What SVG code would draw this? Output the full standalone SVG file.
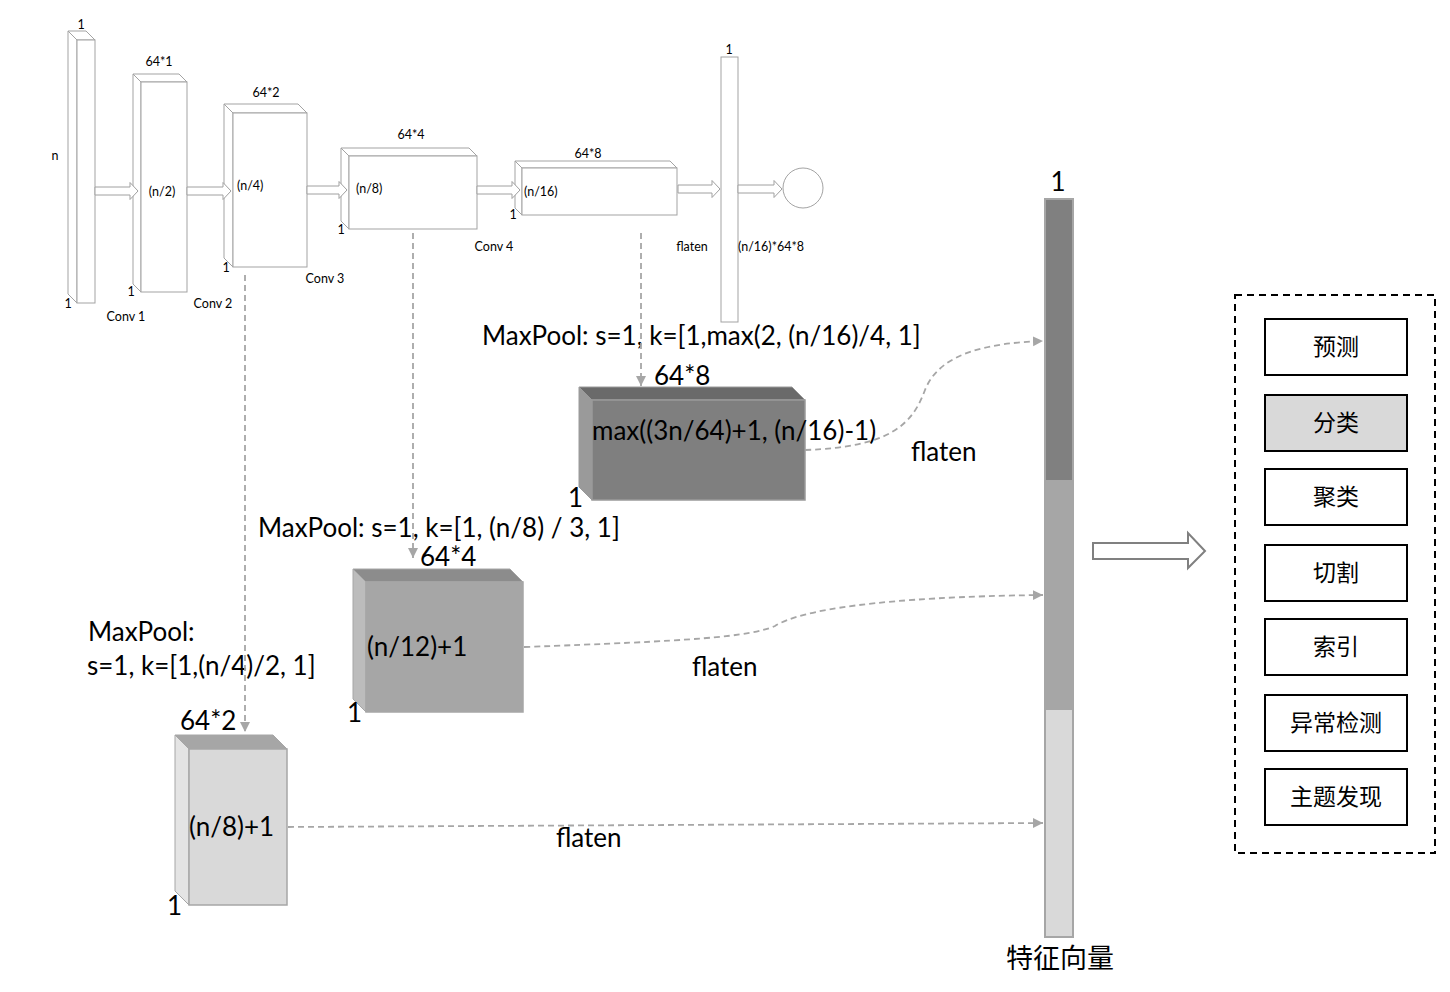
<svg xmlns="http://www.w3.org/2000/svg" width="1450" height="992" viewBox="0 0 1450 992">
<style>
.bg{fill:#ffffff}
.wb{fill:#ffffff;stroke:#a3a3a3;stroke-width:1}
.sm{font-family:Lato,"Liberation Sans",sans-serif;font-size:12.5px;fill:#000}
.lg{font-family:Lato,"Liberation Sans",sans-serif;font-size:26px;fill:#000}
.cj{font-family:"Noto Sans CJK SC",sans-serif;font-size:23px;fill:#000}
.dash{fill:none;stroke:#a6a6a6;stroke-width:1.8;stroke-dasharray:6 4}
.ha{fill:#ffffff;stroke:#a0a0a0;stroke-width:1}
.item{fill:#ffffff;stroke:#000;stroke-width:2}
</style>
<defs>
<marker id="ah" markerUnits="userSpaceOnUse" markerWidth="11" markerHeight="11" refX="10" refY="5" orient="auto">
<path d="M0,0 L10,5 L0,10 Z" fill="#a6a6a6"/>
</marker>
</defs>
<rect class="bg" x="0" y="0" width="1450" height="992"/>

<!-- top network -->
<g id="input">
<polygon class="wb" points="68,31 86,31 95,40 77,40"/>
<polygon class="wb" points="68,31 77,40 77,303 68,294"/>
<rect class="wb" x="77" y="40" width="18" height="263"/>
<text class="sm" x="81" y="29" text-anchor="middle">1</text>
<text class="sm" x="55" y="160" text-anchor="middle">n</text>
<text class="sm" x="68" y="308" text-anchor="middle">1</text>
</g>
<g id="conv1">
<polygon class="wb" points="133,74 179,74 187,82 141,82"/>
<polygon class="wb" points="133,74 141,82 141,292 133,284"/>
<rect class="wb" x="141" y="82" width="46" height="210"/>
<text class="sm" x="159" y="66" text-anchor="middle">64*1</text>
<text class="sm" x="162" y="196" text-anchor="middle">(n/2)</text>
<text class="sm" x="131" y="296" text-anchor="middle">1</text>
<text class="sm" x="126" y="321" text-anchor="middle">Conv 1</text>
</g>
<g id="conv2">
<polygon class="wb" points="224,104 298,104 307,113 233,113"/>
<polygon class="wb" points="224,104 233,113 233,267 224,258"/>
<rect class="wb" x="233" y="113" width="74" height="154"/>
<text class="sm" x="266" y="97" text-anchor="middle">64*2</text>
<text class="sm" x="237" y="190">(n/4)</text>
<text class="sm" x="226" y="272" text-anchor="middle">1</text>
<text class="sm" x="213" y="308" text-anchor="middle">Conv 2</text>
</g>
<g id="conv3">
<polygon class="wb" points="341,148 469,148 477,156 349,156"/>
<polygon class="wb" points="341,148 349,156 349,229 341,221"/>
<rect class="wb" x="349" y="156" width="128" height="73"/>
<text class="sm" x="411" y="139" text-anchor="middle">64*4</text>
<text class="sm" x="356" y="193">(n/8)</text>
<text class="sm" x="341" y="234" text-anchor="middle">1</text>
<text class="sm" x="325" y="283" text-anchor="middle">Conv 3</text>
</g>
<g id="conv4">
<polygon class="wb" points="515,161 670,161 677,168 522,168"/>
<polygon class="wb" points="515,161 522,168 522,215 515,208"/>
<rect class="wb" x="522" y="168" width="155" height="47"/>
<text class="sm" x="588" y="158" text-anchor="middle">64*8</text>
<text class="sm" x="524" y="196">(n/16)</text>
<text class="sm" x="513" y="219" text-anchor="middle">1</text>
<text class="sm" x="494" y="251" text-anchor="middle">Conv 4</text>
</g>
<g id="flatten">
<rect class="wb" x="721" y="57" width="17" height="265"/>
<text class="sm" x="729" y="54" text-anchor="middle">1</text>
<text class="sm" x="692" y="251" text-anchor="middle">flaten</text>
<text class="sm" x="738" y="251">(n/16)*64*8</text>
</g>
<g id="output">
<circle class="wb" cx="803" cy="188" r="20"/>
</g>

<!-- max pool boxes -->
<g id="pool8">
<polygon points="579,387 792,387 805,400 592,400" fill="#6a6a6a" stroke="#9a9a9a" stroke-width="1"/>
<polygon points="579,387 592,400 592,500 579,487" fill="#9a9a9a" stroke="#9a9a9a" stroke-width="1"/>
<rect x="592" y="400" width="213" height="100" fill="#7f7f7f" stroke="#9a9a9a" stroke-width="1.5"/>
<text class="lg" x="482" y="345">MaxPool: s=1, k=[1,max(2, (n/16)/4, 1]</text>
<text class="lg" x="654" y="385">64*8</text>
<text class="lg" x="592" y="440">max((3n/64)+1, (n/16)-1)</text>
<text class="lg" x="568" y="507">1</text>
</g>
<g id="pool4">
<polygon points="353,569 510,569 523,582 366,582" fill="#8c8c8c" stroke="#a6a6a6" stroke-width="1"/>
<polygon points="353,569 366,582 366,712 353,699" fill="#bcbcbc" stroke="#a6a6a6" stroke-width="1"/>
<rect x="366" y="582" width="157" height="130" fill="#a6a6a6" stroke="#a6a6a6" stroke-width="1.5"/>
<text class="lg" x="258" y="537">MaxPool: s=1, k=[1, (n/8) / 3, 1]</text>
<text class="lg" x="420" y="566">64*4</text>
<text class="lg" x="367" y="656">(n/12)+1</text>
<text class="lg" x="347" y="722">1</text>
</g>
<g id="pool2">
<polygon points="175,735 273,735 287,749 189,749" fill="#a6a6a6" stroke="#a6a6a6" stroke-width="1"/>
<polygon points="175,735 189,749 189,905 175,891" fill="#e4e4e4" stroke="#a6a6a6" stroke-width="1"/>
<rect x="189" y="749" width="98" height="156" fill="#d9d9d9" stroke="#a6a6a6" stroke-width="1.5"/>
<text class="lg" x="88" y="641">MaxPool:</text>
<text class="lg" x="87" y="675">s=1, k=[1,(n/4)/2, 1]</text>
<text class="lg" x="180" y="730">64*2</text>
<text class="lg" x="189" y="836">(n/8)+1</text>
<text class="lg" x="167" y="915">1</text>
</g>

<!-- feature vector -->
<g id="feature">
<rect x="1045" y="199" width="28" height="281" fill="#808080"/>
<rect x="1045" y="480" width="28" height="230" fill="#a6a6a6"/>
<rect x="1045" y="710" width="28" height="227" fill="#d9d9d9"/>
<rect x="1045" y="199" width="28" height="738" fill="none" stroke="#a6a6a6" stroke-width="2"/>
<text class="lg" x="1058" y="191" text-anchor="middle">1</text>
<text class="cj" x="1060" y="968" text-anchor="middle" style="font-size:27px">特征向量</text>
</g>

<!-- tasks -->
<g id="tasks">
<rect x="1235" y="295" width="200" height="558" fill="none" stroke="#000" stroke-width="2" stroke-dasharray="7 5"/>
</g>
<g id="t1"><rect class="item" x="1265" y="319" width="142" height="56"/><text class="cj" x="1336" y="355" text-anchor="middle">预测</text></g>
<g id="t2"><rect class="item" x="1265" y="395" width="142" height="56" style="fill:#d9d9d9"/><text class="cj" x="1336" y="431" text-anchor="middle">分类</text></g>
<g id="t3"><rect class="item" x="1265" y="469" width="142" height="56"/><text class="cj" x="1336" y="505" text-anchor="middle">聚类</text></g>
<g id="t4"><rect class="item" x="1265" y="545" width="142" height="56"/><text class="cj" x="1336" y="581" text-anchor="middle">切割</text></g>
<g id="t5"><rect class="item" x="1265" y="619" width="142" height="56"/><text class="cj" x="1336" y="655" text-anchor="middle">索引</text></g>
<g id="t6"><rect class="item" x="1265" y="695" width="142" height="56"/><text class="cj" x="1336" y="731" text-anchor="middle">异常检测</text></g>
<g id="t7"><rect class="item" x="1265" y="769" width="142" height="56"/><text class="cj" x="1336" y="805" text-anchor="middle">主题发现</text></g>

<!-- connectors -->
<g id="connectors">
<path class="ha" d="M95,187 H130 V182.5 L138,191 L130,199.5 V195 H95 Z"/>
<path class="ha" d="M187,187 H223 V182.5 L231,191 L223,199.5 V195 H187 Z"/>
<path class="ha" d="M307,186 H339 V181.5 L347,190 L339,198.5 V194 H307 Z"/>
<path class="ha" d="M477,186 H512 V181.5 L520,190 L512,198.5 V194 H477 Z"/>
<path class="ha" d="M678,185 H712 V180.5 L720,189 L712,197.5 V193 H678 Z"/>
<path class="ha" d="M738,185 H774 V180.5 L782,189 L774,197.5 V193 H738 Z"/>
<path d="M1093,543 H1188 V533 L1205,551 L1188,568 V559 H1093 Z" fill="#ffffff" stroke="#808080" stroke-width="2"/>
<path class="dash" d="M245,275 V732" marker-end="url(#ah)"/>
<path class="dash" d="M413,233 V558" marker-end="url(#ah)"/>
<path class="dash" d="M641,233 V386" marker-end="url(#ah)"/>
<path class="dash" d="M805,450 C890,447 912,425 925,390 C940,352 990,343 1043,341" marker-end="url(#ah)"/>
<path class="dash" d="M524,647 C690,641 750,637 775,626 C800,610 880,597 1043,595" marker-end="url(#ah)"/>
<path class="dash" d="M288,827 L1043,823" marker-end="url(#ah)"/>
<text class="lg" x="911" y="461">flaten</text>
<text class="lg" x="692" y="676">flaten</text>
<text class="lg" x="556" y="847">flaten</text>
</g>
</svg>
